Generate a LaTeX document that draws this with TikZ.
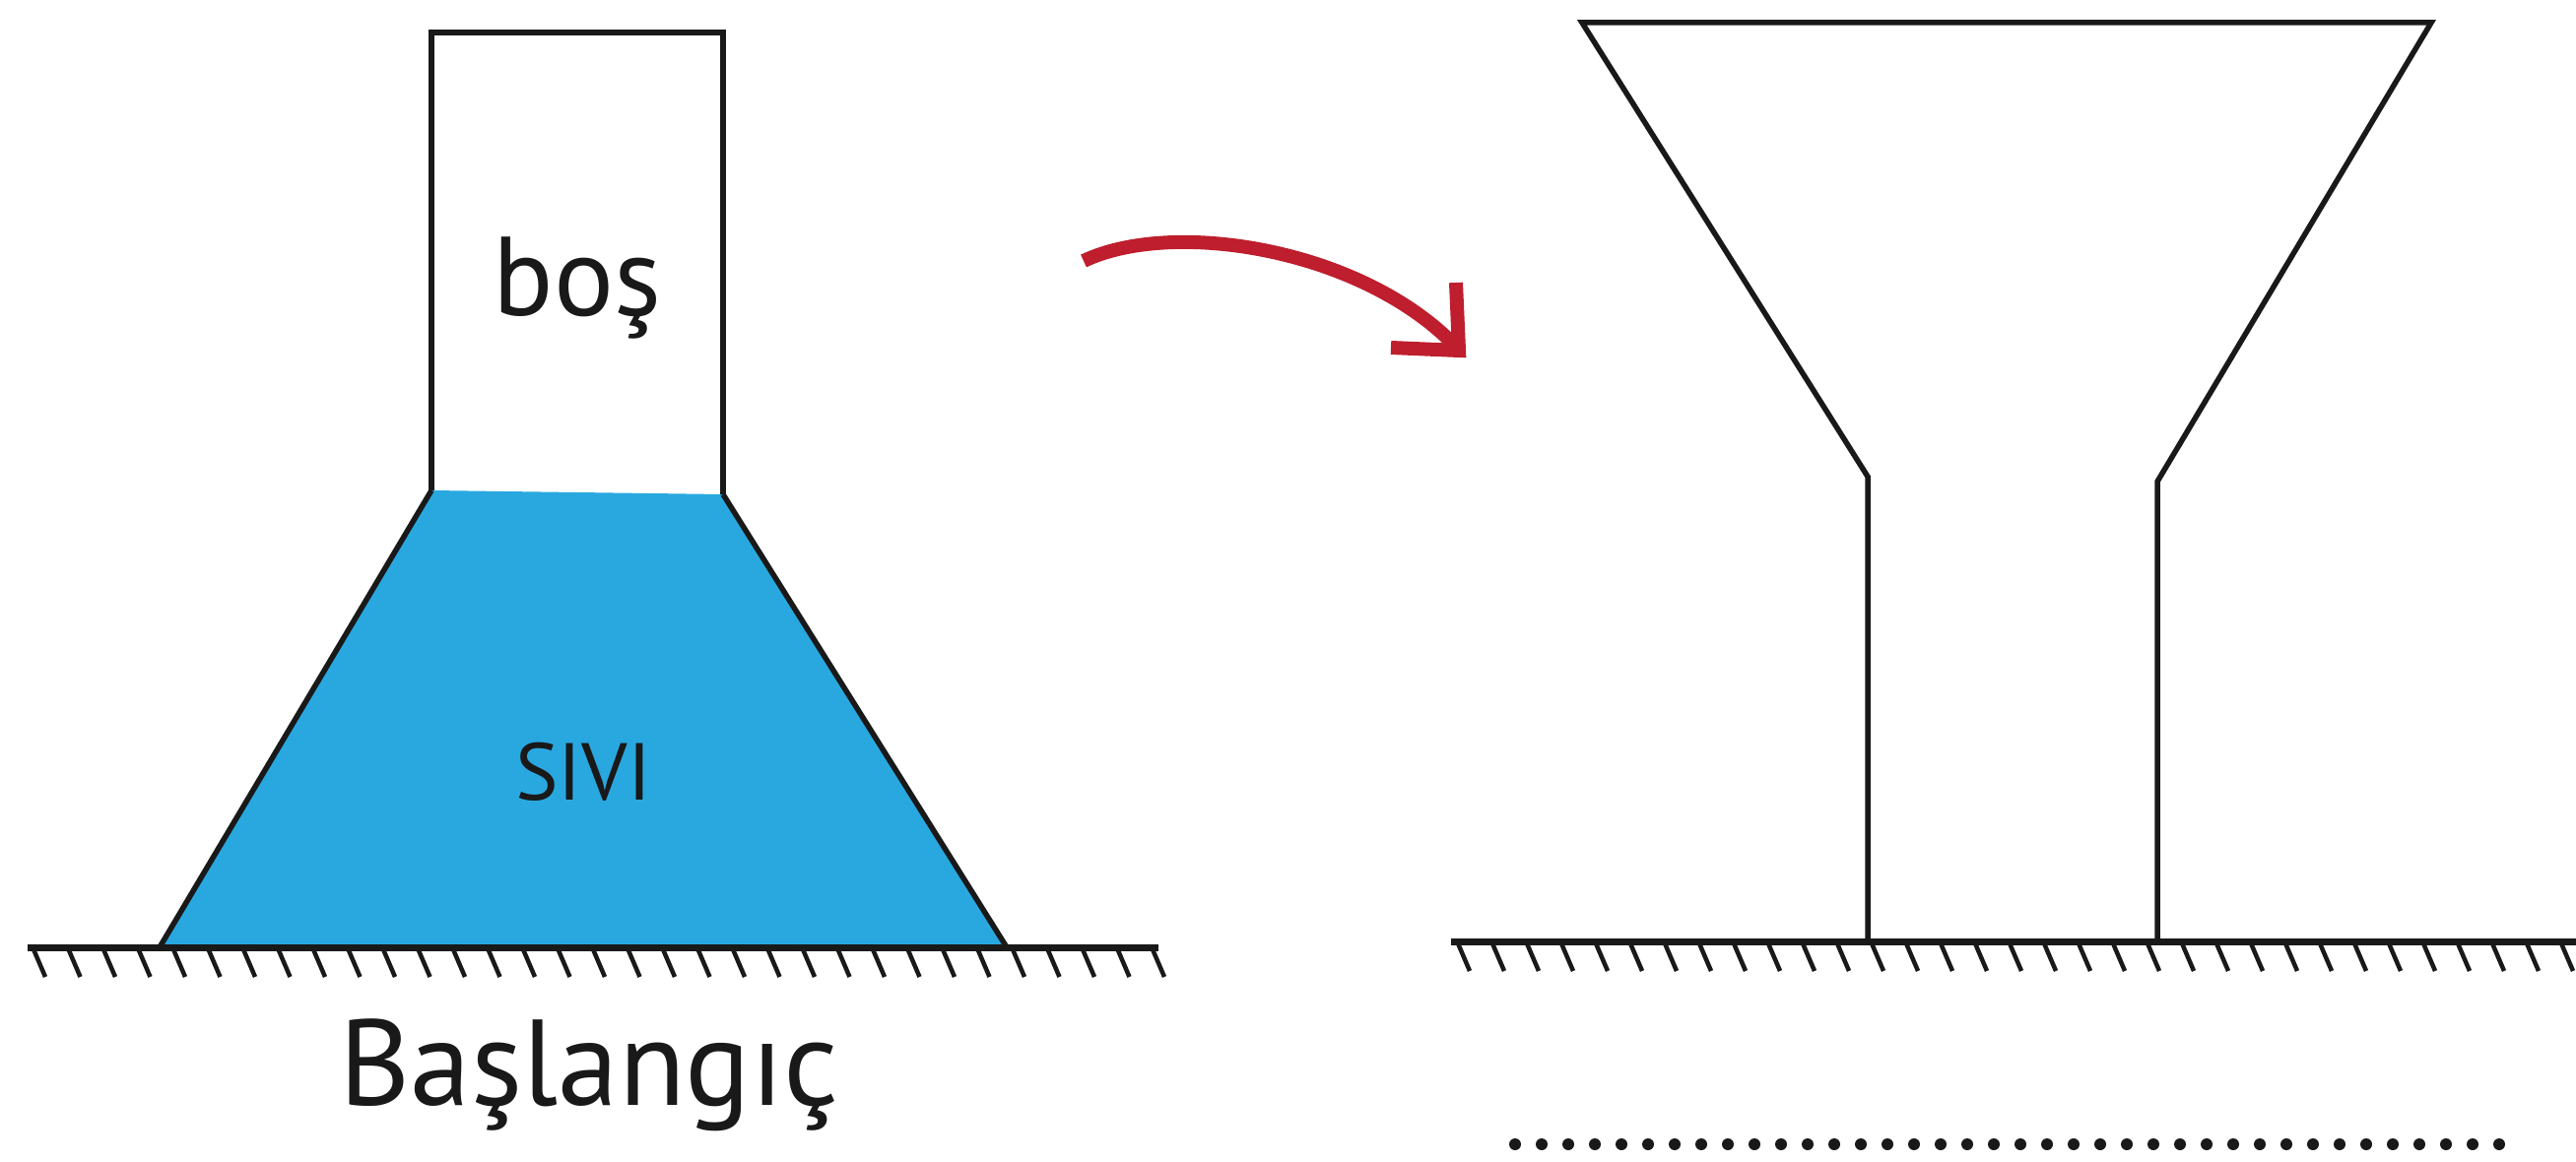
\documentclass[tikz,border=0pt]{standalone}
\usepackage{fontspec}
\setmainfont{PT Sans}
\definecolor{liquid}{RGB}{41,168,224}
\definecolor{arrowred}{RGB}{190,30,45}
\tikzset{
  wall/.style={draw=black!90, line width=5.5pt, line join=miter},
  groundline/.style={draw=black!90, line width=7pt},
  hatchline/.style={draw=black!90, line width=4.5pt},
  bend arrow/.style={draw=arrowred, line width=14pt},
  lbl/.style={inner sep=0pt, text=black!90}
}
\begin{document}
\begin{tikzpicture}[x=1pt,y=-1pt]
\useasboundingbox (0,0) rectangle (2615,1180);
% ---- left vessel ----
\coordinate (rTL) at (438,33);
\coordinate (rTR) at (734,33);
\coordinate (rBL) at (438,498);
\coordinate (rBR) at (734,502);
\coordinate (tBL) at (162,962);
\coordinate (tBR) at (1022,962);
\fill[liquid] (rBL) -- (rBR) -- (tBR) -- (tBL) -- cycle;
\draw[wall] (rBL) -- (rTL) -- (rTR) -- (rBR);
\draw[wall] (rBL) -- (tBL);
\draw[wall] (rBR) -- (tBR);
% left ground
\coordinate (g1a) at (28,962);
\coordinate (g1b) at (1176,962);
\draw[groundline] (g1a) -- (g1b);
\foreach \x in {0,...,32} {
  \draw[hatchline] ({34+\x*35.5},964) -- ++(12,28);
}
\node[lbl, font=\fontsize{114}{120}\selectfont] (bos) at (586,292) {boş};
\node[lbl, font=\fontsize{82}{90}\selectfont] (sivi) at (592,784) {SIVI};
\node[lbl, font=\fontsize{124}{130}\selectfont] (basl) at (598,1092) {Başlangıç};
% ---- arrow ----
\coordinate (a1) at (1100,265);
\coordinate (a2) at (1476,350);
\draw[bend arrow] (a1) .. controls (1190,222) and (1380,252) .. (a2);
\draw[bend arrow, line join=miter] (1412,353) -- (1481,356) -- (1478,287);
% ---- right vessel ----
\coordinate (fTL) at (1606,23);
\coordinate (fTR) at (2468,23);
\coordinate (fBL) at (1896,484);
\coordinate (fBR) at (2190,489);
\coordinate (fDL) at (1896,955);
\coordinate (fDR) at (2190,955);
\draw[wall] (fDL) -- (fBL) -- (fTL) -- (fTR) -- (fBR) -- (fDR);
% right ground
\coordinate (g2a) at (1473,956);
\coordinate (g2b) at (2615,956);
\draw[groundline] (g2a) -- (g2b);
\foreach \x in {0,...,32} {
  \draw[hatchline] ({1480+\x*35},958) -- ++(12,28);
}
% dotted answer line
\foreach \x in {0,...,37} {
  \fill[black!90] ({1538+\x*27},1162) circle (6);
}
\end{tikzpicture}
\end{document}
